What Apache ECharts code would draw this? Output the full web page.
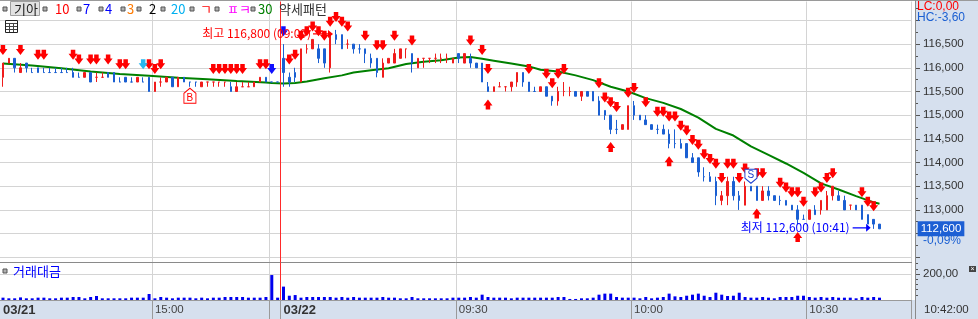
<!DOCTYPE html>
<html>
<head>
<meta charset="utf-8">
<script src="https://cdn.jsdelivr.net/npm/echarts@6/dist/echarts.min.js"></script>
<style>
html, body { margin: 0; padding: 0; background: #fff; }
#chart { width: 978px; height: 319px; }
</style>
</head>
<body>
<div id="chart"></div>
<script>
// 분 단위 시간 목록 만들기
function minutes(from, to) {
    var out = [];
    var h = +from.slice(0, 2), m = +from.slice(3);
    var th = +to.slice(0, 2), tm = +to.slice(3);
    while (h < th || (h == th && m <= tm)) {
        out.push((h < 10 ? '0' : '') + h + ':' + (m < 10 ? '0' : '') + m);
        m++;
        if (m == 60) { m = 0; h++; }
    }
    return out;
}

// 03/21 14:34 ~ 장마감, 03/22 09:00 ~ 10:47
var times = minutes('14:34', '15:19').concat(['15:30', '15:40'], minutes('09:00', '10:47'));
// 봉 경계 (구분선용)
var edges = times.concat(['10:48']);

// [시가, 종가, 저가, 고가]
var ohlc = [
    [115800, 116100, 115600, 116100], [116100, 116200, 116100, 116200], [116200, 116000, 115900, 116200],
    [115900, 116000, 115900, 116100], [116100, 116000, 115900, 116100], [115900, 115900, 115900, 116000],
    [116000, 115900, 115900, 116000], [115900, 115900, 115900, 116000], [115900, 115900, 115900, 116000],
    [115900, 115900, 115900, 116000], [115900, 115900, 115900, 116000], [115900, 115900, 115900, 116000],
    [115900, 115800, 115800, 116000], [115800, 115800, 115800, 115900], [115800, 115900, 115800, 115900],
    [115900, 115700, 115700, 115900], [115800, 115800, 115700, 115900], [115800, 115800, 115800, 115900],
    [115900, 115800, 115800, 115900], [115900, 115700, 115700, 115900], [115700, 115700, 115700, 115800],
    [115800, 115700, 115700, 115800], [115700, 115700, 115700, 115800], [115700, 115800, 115700, 115800],
    [115700, 115700, 115700, 115800], [115800, 115500, 115500, 115800], [115500, 115700, 115500, 115700],
    [115700, 115700, 115600, 115800], [115700, 115800, 115700, 115800], [115800, 115600, 115600, 115800],
    [115600, 115800, 115600, 115800], [115800, 115700, 115700, 115800], [115700, 115700, 115600, 115700],
    [115700, 115700, 115600, 115700], [115600, 115700, 115600, 115700], [115700, 115700, 115600, 115700],
    [115700, 115700, 115600, 115700], [115700, 115700, 115600, 115700], [115700, 115700, 115600, 115700],
    [115600, 115500, 115500, 115700], [115500, 115600, 115500, 115700], [115600, 115600, 115600, 115700],
    [115600, 115600, 115600, 115700], [115600, 115700, 115600, 115700], [115700, 115800, 115700, 115800],
    [115800, 115700, 115700, 115800], [115700, 115700, 115700, 115700], [115700, 115700, 115700, 115700],
    // 03/22
    [116200, 115900, 115600, 116500], [115800, 115700, 115600, 115900], [115900, 115800, 115700, 116000],
    [115700, 116400, 115700, 116400], [116400, 116400, 116300, 116500], [116400, 116600, 116400, 116600],
    [116400, 116200, 116100, 116500], [116400, 116100, 116000, 116400], [116000, 116700, 115900, 116700],
    [116700, 116600, 116500, 116800], [116700, 116400, 116400, 116700], [116500, 116500, 116400, 116600],
    [116500, 116400, 116300, 116500], [116400, 116400, 116300, 116500], [116400, 116300, 116100, 116400],
    [116200, 116100, 116000, 116300], [116200, 115900, 115800, 116200], [115800, 116100, 115800, 116200],
    [116100, 116200, 116100, 116200], [116100, 116300, 116100, 116400], [116200, 116400, 116200, 116400],
    [116400, 116400, 116200, 116400], [116300, 116100, 115900, 116300], [116000, 116200, 116000, 116200],
    [116200, 116200, 116000, 116200], [116200, 116200, 116100, 116200], [116200, 116200, 116100, 116300],
    [116200, 116200, 116100, 116300], [116200, 116200, 116100, 116300], [116100, 116200, 116100, 116200],
    [116300, 116200, 116100, 116300], [116100, 116300, 116100, 116300], [116200, 116100, 116000, 116300],
    [116100, 116000, 116000, 116100], [116100, 115700, 115700, 116100], [115600, 115500, 115500, 115700],
    [115500, 115600, 115500, 115600], [115600, 115600, 115600, 115700], [115600, 115600, 115500, 115600],
    [115600, 115700, 115500, 115700], [115700, 115900, 115600, 115900], [115900, 115700, 115600, 115900],
    [115700, 115500, 115500, 115700], [115500, 115500, 115500, 115600], [115500, 115600, 115500, 115600],
    [115600, 115400, 115400, 115600], [115400, 115300, 115200, 115400], [115300, 115500, 115200, 115600],
    [115500, 115500, 115400, 115700], [115500, 115500, 115400, 115600], [115500, 115400, 115400, 115500],
    [115400, 115500, 115300, 115500], [115500, 115400, 115400, 115500], [115500, 115300, 115300, 115500],
    [115300, 115000, 115000, 115400], [115100, 115000, 114900, 115100], [115000, 114700, 114600, 115000],
    [114700, 114700, 114600, 114900], [114700, 114800, 114700, 114800], [114700, 115200, 114700, 115200],
    [115200, 115000, 114900, 115300], [115000, 114900, 114900, 115000], [114900, 114800, 114800, 115000],
    [114800, 114700, 114700, 114800], [114700, 114700, 114600, 114800], [114700, 114600, 114600, 114800],
    [114600, 114400, 114300, 114700], [114400, 114400, 114300, 114700], [114400, 114300, 114300, 114500],
    [114400, 114100, 114100, 114400], [114100, 114000, 114000, 114200], [114100, 113800, 113700, 114100],
    [113700, 113700, 113600, 113900], [113700, 113600, 113600, 113800], [113600, 113300, 113100, 113700],
    [113200, 113300, 113100, 113400], [113300, 113600, 113100, 113700], [113600, 113300, 113200, 113700],
    [113300, 113200, 113000, 113400], [113100, 113500, 113100, 113600], [113500, 113400, 113400, 113500],
    [113500, 113200, 113200, 113500], [113200, 113400, 113200, 113500], [113400, 113300, 113200, 113500],
    [113300, 113200, 113200, 113300], [113200, 113200, 113100, 113300], [113200, 113100, 113100, 113200],
    [113100, 113000, 113000, 113100], [113000, 112800, 112700, 113100], [112800, 112800, 112800, 112900],
    [112800, 113000, 112800, 113000], [113000, 112900, 112900, 113100], [113000, 113200, 112900, 113200],
    [113000, 113300, 113000, 113400], [113300, 113500, 113200, 113500], [113300, 113200, 113200, 113400],
    [113200, 113000, 113000, 113300], [113100, 113100, 113000, 113100], [113100, 113000, 113000, 113100],
    [113100, 112800, 112800, 113100], [112900, 112700, 112700, 112900], [112800, 112700, 112600, 112800],
    [112700, 112600, 112600, 112700]
];

// 거래대금
var volume = [
    18, 13, 13, 20, 13, 13, 18, 18, 13, 13, 18, 18, 23, 23, 13, 23, 31, 13, 13, 13,
    13, 13, 18, 18, 18, 46, 13, 23, 18, 13, 18, 18, 18, 13, 18, 13, 18, 18, 23, 23,
    23, 23, 18, 18, 18, 23, 192, 18,
    103, 33, 38, 18, 23, 23, 23, 23, 23, 18, 23, 18, 23, 18, 18, 18, 18, 23, 18, 18,
    13, 13, 23, 13, 13, 13, 13, 13, 13, 18, 18, 18, 23, 18, 41, 23, 18, 18, 18, 13,
    18, 18, 18, 18, 18, 18, 18, 23, 23, 8, 8, 13, 13, 18, 41, 49, 49, 23, 18, 18,
    18, 13, 23, 13, 18, 23, 49, 28, 23, 33, 41, 49, 33, 23, 56, 41, 31, 33, 56, 23,
    18, 18, 23, 18, 13, 23, 23, 23, 33, 33, 23, 18, 23, 18, 23, 18, 18, 18, 13, 23,
    18, 23, 18
];

// 30 이동평균
var ma30 = [
    ['14:34', 116090], ['14:39', 116050], ['14:44', 115990], ['14:49', 115920], ['14:54', 115870],
    ['14:59', 115830], ['15:04', 115790], ['15:09', 115760], ['15:14', 115720], ['15:19', 115690],
    ['15:30', 115680], ['09:00', 115670], ['09:02', 115680], ['09:04', 115710], ['09:07', 115780],
    ['09:10', 115840], ['09:12', 115900], ['09:15', 115950], ['09:18', 115990], ['09:21', 116080],
    ['09:24', 116130], ['09:27', 116160], ['09:30', 116220], ['09:32', 116230], ['09:34', 116190],
    ['09:36', 116150], ['09:39', 116090], ['09:42', 116030], ['09:44', 115960], ['09:47', 115920],
    ['09:50', 115840], ['09:53', 115740], ['09:56', 115600], ['09:59', 115500], ['10:02', 115360],
    ['10:05', 115260], ['10:08', 115130], ['10:11', 114950], ['10:14', 114710], ['10:17', 114570],
    ['10:20', 114340], ['10:23', 114160], ['10:26', 113980], ['10:29', 113780], ['10:32', 113560],
    ['10:35', 113430], ['10:38', 113290], ['10:41', 113160], ['10:42', 113130]
];

// 약세패턴 신호 (봉 번호)
var sellSignals = [0, 3, 6, 7, 12, 13, 15, 16, 18, 20, 21, 25, 26, 27, 36, 37, 38, 39, 40, 41, 44, 45,
    49, 50, 51, 52, 53, 54, 55, 56, 57, 58, 59, 62, 64, 65, 67, 70, 80, 82, 83, 90, 93, 94, 95, 96,
    102, 103, 104, 105, 107, 108, 110, 112, 113, 114, 115, 116, 117, 118, 119, 120, 121, 122, 123,
    124, 125, 126, 127, 129, 130, 133, 134, 135, 136, 137, 139, 140, 141, 142, 147, 148, 149];
var buySignals = [83, 104, 114, 129, 136];
var blueSignals = [46, 48];
var cyanSignals = [24];
var bSignal = [32];
var sSignal = [128];

// 가격축 눈금
var priceTicks = [112000, 112500, 113000, 113500, 114000, 114500, 115000, 115500, 116000, 116500, 117000];
var priceMinor = [112250, 112750, 113250, 113750, 114250, 114750, 115250, 115750, 116250, 116750, 117250];
var priceLabels = [113000, 113500, 114000, 114500, 115000, 115500, 116000, 116500];
var volTicks = [200];
var volMinor = [40, 80, 120, 160, 240, 280];

// 시간축 구분선, 라벨
var splitAt = ['15:00', '15:30', '09:30', '10:00', '10:30'];
var dayStart = '09:00';
var labelAt = ['14:34', '15:00', '09:00', '09:30', '10:00', '10:30'];
var labelText = ['03/21', '15:00', '03/22', '09:30', '10:00', '10:30'];

var RED = '#f01c1c', BLUE = '#1a5fd2';
var KR = 'Noto Sans CJK KR';
var NUM = 'Liberation Sans';
var GRID_W = 911.625;
var AXIS_X = 915;

function fmt(v) {
    return String(v).replace(/\B(?=(\d{3})+(?!\d))/g, ',');
}

// 도지 색: 전봉 종가 비교, 같으면 전봉 색 유지
var prevUp = true;
var candleData = ohlc.map(function (d, i) {
    var up;
    if (d[1] > d[0]) up = true;
    else if (d[1] < d[0]) up = false;
    else {
        var pc = i ? ohlc[i - 1][1] : d[0];
        up = d[1] > pc ? true : d[1] < pc ? false : prevUp;
        prevUp = up;
        var c = up ? RED : BLUE;
        return { value: d, itemStyle: { color: c, color0: c, borderColor: c, borderColor0: c } };
    }
    prevUp = up;
    return d;
});

function pts(list, k) {
    return list.map(function (i) { return [times[i], ohlc[i][k]]; });
}

// 최고/최저
var hiIdx = 0, loIdx = 0;
ohlc.forEach(function (d, i) {
    if (d[3] > ohlc[hiIdx][3]) hiIdx = i;
    if (d[2] < ohlc[loIdx][2]) loIdx = i;
});
var lastClose = ohlc[ohlc.length - 1][1];

var downArrow = 'path://M2.5,0 L7.5,0 L7.5,4 L10,4 L5,10 L0,4 L2.5,4 Z';
var upArrow = 'path://M5,0 L10,6 L7.5,6 L7.5,10 L2.5,10 L2.5,6 L0,6 Z';
var pointer = 'path://M0,3.5 L15,3.5 L15,1 L20,4 L15,7 L15,4.5 L0,4.5 Z';

function splitFn(idx, val) { return splitAt.indexOf(val) >= 0; }
function bandFn(idx, val) { return val == dayStart || splitAt.indexOf(val) >= 0; }

var myChart = echarts.init(document.getElementById('chart'));

var graphics = [
    { type: 'rect', z: -1, shape: { x: 915, y: 0, width: 63, height: 319 }, style: { fill: '#d6e0ee' } },
    { type: 'rect', z: -1, shape: { x: 0, y: 300, width: 915, height: 19 }, style: { fill: '#d6e0ee' } },
    { type: 'line', z: 5, shape: { x1: 0, y1: 0.5, x2: 978, y2: 0.5 }, style: { stroke: '#9a9a9a', lineWidth: 1 } },
    { type: 'line', z: 5, shape: { x1: 915.5, y1: 0, x2: 915.5, y2: 319 }, style: { stroke: '#8a8a8a', lineWidth: 1 } },
    // 상단 범례
    { type: 'rect', z: 10, shape: { x: 10.5, y: 1.5, width: 29, height: 14 }, style: { fill: '#e2e2e2', stroke: '#a0a0a0' } },
    { type: 'text', z: 11, x: 14, y: 9, style: { text: '기아', fill: '#222', font: '13px ' + KR, verticalAlign: 'middle' } }
];
var legendItems = [
    [43, '10', '#ff0000', 55], [77, '7', '#0000ff', 83], [99, '4', '#0000ff', 105], [121, '3', '#ff7a00', 127],
    [137, '2', '#000000', 149], [161, '20', '#00b0f0', 171], [190, 'ㄱ', '#ff0000', 200], [215, 'ㅍㅋ', '#ff00ff', 227],
    [251, '30', '#008000', 258]
];
graphics.push({ type: 'rect', z: 10, shape: { x: 3, y: 7, width: 4, height: 4 }, style: { fill: '#b0b0b0', stroke: '#555', lineWidth: 1 } });
legendItems.forEach(function (it) {
    graphics.push({ type: 'rect', z: 10, shape: { x: it[0], y: 7, width: 4, height: 4 }, style: { fill: '#b0b0b0', stroke: '#555', lineWidth: 1 } });
    graphics.push({ type: 'text', z: 10, x: it[3], y: 9, style: { text: it[1], fill: it[2], font: '13px ' + KR, verticalAlign: 'middle' } });
});
graphics.push({ type: 'text', z: 10, x: 279, y: 9, style: { text: '약세패턴', fill: '#333', font: '13px ' + KR, verticalAlign: 'middle' } });
// 표 아이콘
graphics.push({ type: 'rect', z: 10, shape: { x: 5.5, y: 20.5, width: 12, height: 12 }, style: { fill: '#fff', stroke: '#222', lineWidth: 1 } });
[[6, 23.5, 17, 23.5], [6, 26.5, 17, 26.5], [6, 29.5, 17, 29.5], [9.5, 23, 9.5, 32], [13.5, 23, 13.5, 32]].forEach(function (l) {
    graphics.push({ type: 'line', z: 10, shape: { x1: l[0], y1: l[1], x2: l[2], y2: l[3] }, style: { stroke: '#444', lineWidth: 1 } });
});
// 오른쪽 패널 글자
graphics.push({ type: 'text', z: 10, x: 917, y: 7, style: { text: 'LC:0,00', fill: '#ff0000', font: '12px ' + NUM, verticalAlign: 'middle' } });
graphics.push({ type: 'text', z: 10, x: 917, y: 18, style: { text: 'HC:-3,60', fill: '#1a5fd2', font: '12px ' + NUM, verticalAlign: 'middle' } });
graphics.push({ type: 'text', z: 10, x: 923, y: 241, style: { text: '-0,09%', fill: '#1a5fd2', font: '12px ' + NUM, verticalAlign: 'middle' } });
graphics.push({ type: 'text', z: 10, x: 924, y: 310, style: { text: '10:42:00', fill: '#333', font: '11.5px ' + NUM, verticalAlign: 'middle' } });
// 거래대금 라벨
graphics.push({ type: 'rect', z: 10, shape: { x: 3, y: 269, width: 4, height: 4 }, style: { fill: '#b0b0b0', stroke: '#555', lineWidth: 1 } });
graphics.push({ type: 'text', z: 10, x: 13, y: 271, style: { text: '거래대금', fill: '#0000ff', font: '13px ' + KR, verticalAlign: 'middle' } });
graphics.push({ type: 'rect', z: 10, shape: { x: 969, y: 266, width: 7, height: 6 }, style: { fill: '#444' } });
graphics.push({ type: 'text', z: 11, x: 972.5, y: 269, style: { text: '×', fill: '#fff', font: '7px ' + NUM, align: 'center', verticalAlign: 'middle' } });

// 봉 경계에 값이 놓이는 보조축 (당일 시작선)
function edgeAxis(gi) {
    return { type: 'category', gridIndex: gi, data: edges, boundaryGap: false, show: false };
}
function dayLine(xi, yi) {
    return {
        type: 'line', xAxisIndex: xi, yAxisIndex: yi, data: [], silent: true, z: 5,
        markLine: {
            silent: true, symbol: ['none', 'none'], label: { show: false },
            lineStyle: { color: '#ff2a2a', width: 1, type: 'solid', opacity: 1 },
            data: [{ xAxis: dayStart }]
        }
    };
}

var option = {
    animation: false,
    backgroundColor: '#ffffff',
    graphic: graphics,
    grid: [
        { left: 0, top: 1.5, width: GRID_W, height: 260.5 },
        { left: 0, top: 262.3, width: GRID_W, height: 37.7 }
    ],
    xAxis: [
        {
            type: 'category', gridIndex: 0, data: times, boundaryGap: true,
            axisLine: { show: true, lineStyle: { color: '#8a8a8a', width: 1 } },
            axisTick: { show: false },
            axisLabel: { show: false },
            splitLine: { show: true, interval: splitFn, lineStyle: { color: '#d4d4d4', width: 1 } }
        },
        {
            type: 'category', gridIndex: 1, data: times, boundaryGap: true,
            axisLine: { show: true, lineStyle: { color: '#9a9a9a', width: 1 } },
            axisTick: { show: true, interval: bandFn, length: 19, lineStyle: { color: '#9a9a9a' } },
            axisLabel: {
                show: true,
                interval: function (idx, val) { return labelAt.indexOf(val) >= 0; },
                formatter: function (val) {
                    var t = labelText[labelAt.indexOf(val)];
                    return t.indexOf('/') > 0 ? '{b|' + t + '}' : t;
                },
                align: 'left', margin: 4, color: '#444', fontSize: 11.5, fontFamily: NUM,
                rich: { b: { fontWeight: 'bold', fontSize: 13, fontFamily: NUM, color: '#333' } }
            },
            splitLine: { show: true, interval: splitFn, lineStyle: { color: '#d4d4d4', width: 1 } }
        },
        edgeAxis(0),
        edgeAxis(1)
    ],
    yAxis: [
        {
            type: 'value', gridIndex: 0, position: 'right', offset: AXIS_X - GRID_W, min: 111900, max: 117400,
            axisLine: { show: true, lineStyle: { color: '#8a8a8a' } },
            axisTick: { show: true, customValues: priceTicks, length: 5, lineStyle: { color: '#555' } },
            axisLabel: { customValues: priceLabels, margin: 8, color: '#333', fontSize: 11.5, fontFamily: NUM, formatter: fmt },
            splitLine: { show: true, lineStyle: { color: '#d4d4d4', width: 1 } }
        },
        {
            type: 'value', gridIndex: 0, position: 'right', offset: AXIS_X - GRID_W, min: 111900, max: 117400,
            axisLine: { show: false },
            axisTick: { show: true, customValues: priceMinor, length: 3, lineStyle: { color: '#555' } },
            axisLabel: { show: false },
            splitLine: { show: false }
        },
        {
            type: 'value', gridIndex: 1, position: 'right', offset: AXIS_X - GRID_W, min: 0, max: 290,
            axisLine: { show: true, lineStyle: { color: '#8a8a8a' } },
            axisTick: { show: true, customValues: volTicks, length: 5, lineStyle: { color: '#555' } },
            axisLabel: {
                customValues: volTicks, margin: 8, color: '#333', fontSize: 11.5, fontFamily: NUM,
                formatter: function (v) { return v + ',00'; }
            },
            splitLine: { show: true, lineStyle: { color: '#d4d4d4', width: 1 } }
        },
        {
            type: 'value', gridIndex: 1, position: 'right', offset: AXIS_X - GRID_W, min: 0, max: 290,
            axisLine: { show: false },
            axisTick: { show: true, customValues: volMinor, length: 3, lineStyle: { color: '#555' } },
            axisLabel: { show: false },
            splitLine: { show: false }
        }
    ],
    series: [
        dayLine(2, 0),
        dayLine(3, 2),
        {
            name: 'MA30', type: 'line', xAxisIndex: 0, yAxisIndex: 0, data: ma30,
            symbol: 'none', lineStyle: { color: '#008000', width: 2 }, z: 2
        },
        {
            name: '기아', type: 'candlestick', xAxisIndex: 0, yAxisIndex: 0, data: candleData,
            barWidth: 2, z: 3,
            itemStyle: { color: RED, color0: BLUE, borderColor: RED, borderColor0: BLUE, borderWidth: 1 },
            markPoint: {
                silent: true,
                data: [
                    {
                        coord: [times[hiIdx], ohlc[hiIdx][3]], symbol: pointer, symbolSize: [20, 8], symbolOffset: [-13, 4],
                        itemStyle: { color: '#ff0000' },
                        label: { show: true, position: 'left', distance: 2, color: '#ff0000', fontSize: 12, fontFamily: KR,
                            formatter: '최고 ' + fmt(ohlc[hiIdx][3]) + ' (' + times[hiIdx] + ')' }
                    },
                    {
                        coord: [times[loIdx], ohlc[loIdx][2]], symbol: pointer, symbolSize: [18, 8], symbolOffset: [-12, -1],
                        itemStyle: { color: '#0000ff' },
                        label: { show: true, position: 'left', distance: 3, color: '#0000ff', fontSize: 12, fontFamily: KR,
                            formatter: '최저 ' + fmt(ohlc[loIdx][2]) + ' (' + times[loIdx] + ')' }
                    }
                ]
            },
            markLine: {
                silent: true, symbol: ['none', 'none'],
                lineStyle: { color: 'rgba(0,0,0,0)', width: 1, type: 'solid' },
                data: [{ yAxis: lastClose }],
                label: {
                    show: true, position: 'end', distance: 6, formatter: fmt(lastClose),
                    backgroundColor: '#1c5fd4', color: '#fff', padding: [2, 3, 1, 3], fontSize: 11.5, fontFamily: NUM
                }
            }
        },
        {
            type: 'scatter', xAxisIndex: 0, yAxisIndex: 0, data: pts(sellSignals, 3), z: 4,
            symbol: downArrow, symbolSize: [9, 10], symbolOffset: [0, -13], itemStyle: { color: '#ff0000', opacity: 1 }, silent: true
        },
        {
            type: 'scatter', xAxisIndex: 0, yAxisIndex: 0, data: pts(buySignals, 2), z: 4,
            symbol: upArrow, symbolSize: [9, 10], symbolOffset: [0, 13], itemStyle: { color: '#ff0000', opacity: 1 }, silent: true
        },
        {
            type: 'scatter', xAxisIndex: 0, yAxisIndex: 0, data: pts(blueSignals, 3), z: 4,
            symbol: downArrow, symbolSize: [9, 10], symbolOffset: [0, -13], itemStyle: { color: '#1010ff', opacity: 1 }, silent: true
        },
        {
            type: 'scatter', xAxisIndex: 0, yAxisIndex: 0, data: pts(cyanSignals, 3), z: 4,
            symbol: downArrow, symbolSize: [9, 10], symbolOffset: [0, -13], itemStyle: { color: '#28b8f0', opacity: 1 }, silent: true
        },
        {
            type: 'scatter', xAxisIndex: 0, yAxisIndex: 0, data: pts(bSignal, 2), z: 4,
            symbol: 'path://M6,0 L12,5 L12,15 L0,15 L0,5 Z', symbolSize: [12, 15], symbolOffset: [0, 9],
            itemStyle: { color: '#fff', borderColor: '#ff0000', borderWidth: 1, opacity: 1 }, silent: true,
            label: { show: true, position: 'inside', formatter: 'B', color: '#ff0000', fontSize: 10, fontFamily: NUM, offset: [0, 2] }
        },
        {
            type: 'scatter', xAxisIndex: 0, yAxisIndex: 0, data: pts(sSignal, 3), z: 4,
            symbol: 'path://M0,0 L12,0 L12,9 L6,14 L0,9 Z', symbolSize: [12, 14], symbolOffset: [0, -10],
            itemStyle: { color: '#fff', borderColor: '#1a3fd0', borderWidth: 1, opacity: 1 }, silent: true,
            label: { show: true, position: 'inside', formatter: 'S', color: '#1a3fd0', fontSize: 10, fontFamily: NUM, offset: [0, -1] }
        },
        {
            name: '거래대금', type: 'bar', xAxisIndex: 1, yAxisIndex: 2, data: volume,
            barWidth: 3, itemStyle: { color: '#0000ee' }, silent: true
        }
    ]
};

myChart.setOption(option);
</script>
</body>
</html>
